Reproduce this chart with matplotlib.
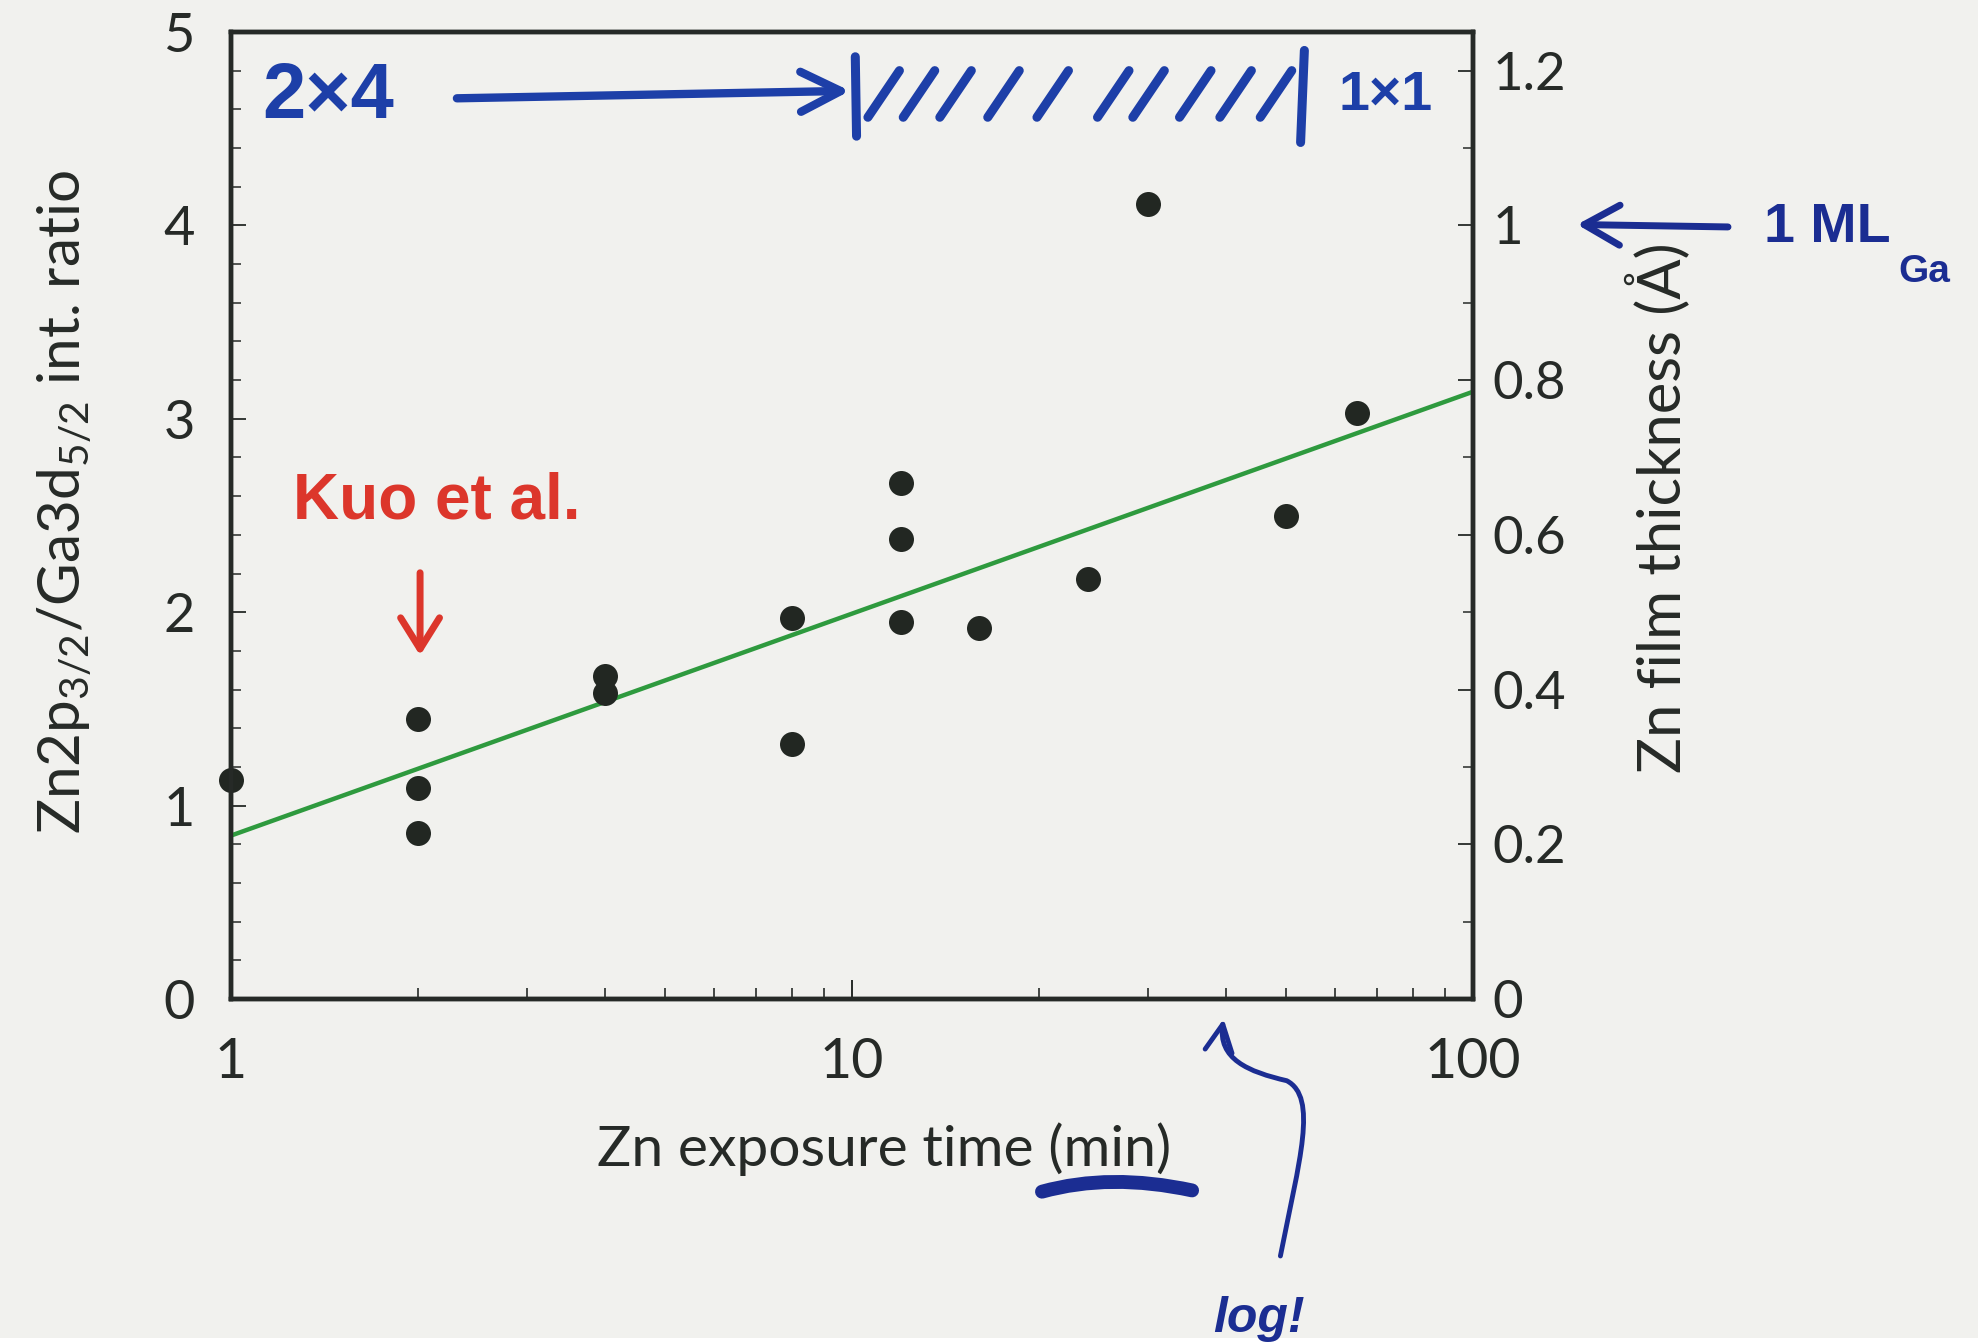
import matplotlib
matplotlib.use('Agg')
import matplotlib.pyplot as plt
from matplotlib.patches import FancyArrowPatch, Rectangle, PathPatch
from matplotlib.path import Path
from matplotlib.ticker import MultipleLocator, LogLocator, NullFormatter

plt.rcParams['mathtext.default'] = 'regular'

# ---------------- data ----------------
exposure_min = [1, 2, 2, 2, 4, 4, 8, 8, 12, 12, 12, 16, 24, 30, 50, 65]
ratio = [1.13, 1.45, 1.09, 0.86, 1.67, 1.58, 1.97, 1.32, 2.67, 2.38, 1.95,
         1.92, 2.17, 4.11, 2.50, 3.03]
fit_x = [1, 100]
fit_y = [0.845, 3.14]
x_ticks = [1, 10, 100]
x_tick_labels = ['1', '10', '100']
left_ticks = [0, 1, 2, 3, 4, 5]
left_tick_labels = ['0', '1', '2', '3', '4', '5']
right_ticks = [0, 0.2, 0.4, 0.6, 0.8, 1.0, 1.2]
right_tick_labels = ['0', '0.2', '0.4', '0.6', '0.8', '1', '1.2']

# ---------------- figure ----------------
W, H = 1978, 1343
fig = plt.figure(figsize=(W / 100, H / 100), dpi=100)
bg = '#f1f1ee'
fig.patch.set_facecolor(bg)

L, R, T, B = 231, 1473, 32, 999
ax = fig.add_axes([L / W, 1 - B / H, (R - L) / W, (B - T) / H])
ax.set_facecolor('none')
ax.set_xscale('log')
ax.set_xlim(1, 100)
ax.set_ylim(0, 5)
ax2 = ax.twinx()
ax2.set_ylim(0, 1.25)

ink = '#262a27'
for a in (ax, ax2):
    for s in a.spines.values():
        s.set_linewidth(3.2)
        s.set_color(ink)

ax.plot(fit_x, fit_y, color='#2e9a3e', lw=3.2, zorder=3)
ax.plot(exposure_min, ratio, 'o', ms=18, color='#222722', mec='none',
        clip_on=False, zorder=4)

tick_font = ['Lato', 'DejaVu Sans']

# x axis
ax.set_xticks(x_ticks)
ax.set_xticklabels(x_tick_labels)
ax.xaxis.set_minor_locator(LogLocator(base=10, subs=range(2, 10)))
ax.xaxis.set_minor_formatter(NullFormatter())
ax.tick_params(axis='x', which='both', direction='in', top=False, color=ink)
ax.tick_params(axis='x', which='major', length=14, width=1.4, pad=27,
               labelsize=40, labelcolor=ink)
ax.tick_params(axis='x', which='minor', length=8, width=1.2)
for lb in ax.get_xticklabels():
    lb.set_fontfamily(tick_font)

# left y axis
ax.set_yticks(left_ticks)
ax.set_yticklabels(left_tick_labels)
ax.yaxis.set_minor_locator(MultipleLocator(0.2))
ax.tick_params(axis='y', which='both', direction='in', right=False, color=ink)
ax.tick_params(axis='y', which='major', length=11, width=1.3, pad=26,
               labelsize=39, labelcolor=ink)
ax.tick_params(axis='y', which='minor', length=7, width=1.1)
for lb in ax.get_yticklabels():
    lb.set_fontfamily(tick_font)

# right y axis
ax2.set_yticks(right_ticks)
ax2.set_yticklabels(right_tick_labels)
ax2.yaxis.set_minor_locator(MultipleLocator(0.1))
ax2.tick_params(axis='y', which='both', direction='in', color=ink)
ax2.tick_params(axis='y', which='major', length=11, width=1.3, pad=14,
                labelsize=38, labelcolor=ink)
ax2.tick_params(axis='y', which='minor', length=7, width=1.1)
for lb in ax2.get_yticklabels():
    lb.set_fontfamily(tick_font)

# axis labels
ax.set_xlabel('Zn exposure time (min)', fontsize=41, color=ink,
              family=tick_font, va='center', ha='center')
ax.xaxis.set_label_coords(0.5256, -0.1555)
ax.set_ylabel(r'Zn2p$_{3/2}$/Ga3d$_{5/2}$ int. ratio', fontsize=42, color=ink,
              family=tick_font, va='center', ha='center')
ax.yaxis.set_label_coords(-0.1346, 0.514)
ax2.set_ylabel('Zn film thickness (Å)', fontsize=43, color=ink,
               family=tick_font, va='center', ha='center', rotation=90)
ax2.yaxis.set_label_coords(1.149, 0.508)

# ---------------- hand-written overlay (coordinates of a 1568x1065 canvas) ----
ov = fig.add_axes([0, 0, 1, 1], zorder=10)
ov.set_xlim(0, 1568)
ov.set_ylim(1065, 0)
ov.axis('off')
ov.patch.set_alpha(0)

blue = '#1d3fa8'
navy = '#1b2d92'
red = '#dc362b'
hand = ['Liberation Sans', 'DejaVu Sans']

ov.text(260, 77, '2×4', fontsize=56, fontweight='bold', color=blue,
        family=hand, ha='center', va='center')
ov.add_patch(FancyArrowPatch((360, 78), (676, 72),
                             arrowstyle='->,head_length=0.9,head_width=0.45',
                             mutation_scale=32, lw=6, color=blue,
                             capstyle='round', joinstyle='round'))
ov.plot([678, 679], [45, 108], color=blue, lw=6.5, solid_capstyle='round')
ov.plot([1034, 1031], [40, 113], color=blue, lw=6.5, solid_capstyle='round')
slash_b = [688, 716, 745, 783, 822, 870, 898, 935, 967, 999]
for xb in slash_b:
    ov.plot([xb, xb + 25], [93, 56], color=blue, lw=6.5,
            solid_capstyle='round')
ov.text(1098, 76, '1×1', fontsize=40, fontweight='bold', color=blue,
        family=hand, ha='center', va='center')

ov.add_patch(FancyArrowPatch((1372, 180), (1248, 178),
                             arrowstyle='->,head_length=0.8,head_width=0.45',
                             mutation_scale=32, lw=5, color=navy))
ov.text(1398, 181, '1 ML', fontsize=40, fontweight='bold', color=navy,
        family=hand, ha='left', va='center')
ov.text(1505, 216, 'Ga', fontsize=28, fontweight='bold', color=navy,
        family=hand, ha='left', va='center')

ov.text(232, 398, 'Kuo et al.', fontsize=46, fontweight='bold', color=red,
        family=hand, ha='left', va='center')
ov.add_patch(FancyArrowPatch((333, 452), (333, 522),
                             arrowstyle='->,head_length=0.8,head_width=0.5',
                             mutation_scale=28, lw=5, color=red))

# underline under (min)
ov.add_patch(PathPatch(Path([(826, 945), (880, 930), (945, 944)],
                            [Path.MOVETO, Path.CURVE3, Path.CURVE3]),
                       fill=False, lw=10, edgecolor=navy, capstyle='round'))

# curly arrow with "log!"
curl = Path([(1015, 996), (1030, 920), (1045, 870), (1020, 857),
             (990, 850), (965, 840), (970, 808)],
            [Path.MOVETO, Path.CURVE4, Path.CURVE4, Path.CURVE4,
             Path.CURVE4, Path.CURVE4, Path.CURVE4])
ov.add_patch(FancyArrowPatch(path=curl,
                             arrowstyle='->,head_length=0.7,head_width=0.35',
                             mutation_scale=28, lw=3.5, color=navy))
ov.text(998, 1046, 'log!', fontsize=36, fontstyle='italic', fontweight='bold',
        color=navy, family=hand, ha='center', va='center')

ov.add_patch(Rectangle((0, 1061), 1568, 10, color='white', lw=0))

fig.savefig('out.png', dpi=100, facecolor=fig.get_facecolor())
